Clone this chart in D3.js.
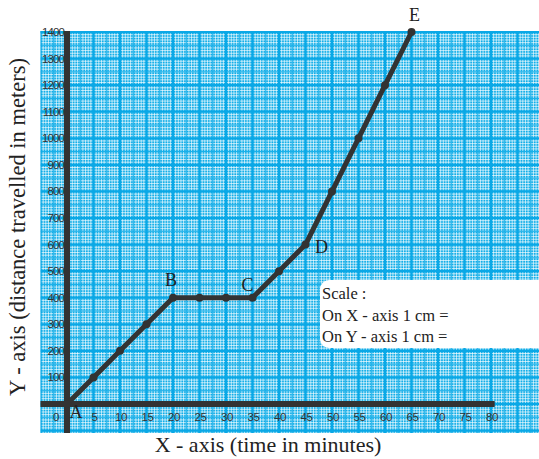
<!DOCTYPE html>
<html>
<head>
<meta charset="utf-8">
<script src="https://cdn.jsdelivr.net/npm/d3@7"></script>
<style>
  body { margin: 0; background: #fff; }
  svg { display: block; }
  .tick-lbl { font-family: "Liberation Sans", Arial, sans-serif; font-size: 11.5px; fill: #333; }
  .serif { font-family: "Liberation Serif", "Times New Roman", serif; fill: #222; }
</style>
</head>
<body>
<svg id="chart" width="539" height="459"></svg>
<script>
// data
var timeMin = [0, 5, 10, 15, 20, 25, 30, 35, 40, 45, 50, 55, 60, 65];
var distM   = [0, 100, 200, 300, 400, 400, 400, 400, 500, 600, 800, 1000, 1200, 1400];
var ptNames = ["A", "B", "C", "D", "E"];
var ptIndex = [0, 4, 7, 9, 13];
var xTickLabels = [0, 5, 10, 15, 20, 25, 30, 35, 40, 45, 50, 55, 60, 65, 70, 75, 80];
var yTickLabels = [100, 200, 300, 400, 500, 600, 700, 800, 900, 1000, 1100, 1200, 1300, 1400];
var scaleLines = ["Scale :", "On X - axis 1 cm =", "On Y - axis 1 cm ="];

var svg = d3.select("#chart");

// scales
var x = d3.scaleLinear().domain([0, 80]).range([67, 491]);
var y = d3.scaleLinear().domain([0, 1400]).range([404, 32]);

// graph paper
var gx0 = 40.5, gx1 = 539, gy0 = 31, gy1 = 433;
svg.append("clipPath").attr("id", "paper")
  .append("rect").attr("x", gx0).attr("y", gy0).attr("width", gx1 - gx0).attr("height", gy1 - gy0);

var paper = svg.append("g").attr("clip-path", "url(#paper)");
paper.append("rect")
  .attr("x", gx0).attr("y", gy0).attr("width", gx1 - gx0).attr("height", gy1 - gy0)
  .attr("fill", "#12aee8");

var minorX = d3.range(-5, 90.01, 0.5);
var minorY = d3.range(-120, 1400.01, 10);

// fine white lines
paper.selectAll(".vmin").data(minorX).enter().append("line")
  .attr("x1", d => x(d)).attr("x2", d => x(d)).attr("y1", gy0).attr("y2", gy1)
  .attr("stroke", "#fff").attr("stroke-opacity", 0.75).attr("stroke-width", 0.9);
paper.selectAll(".hmin").data(minorY).enter().append("line")
  .attr("x1", gx0).attr("x2", gx1).attr("y1", d => y(d)).attr("y2", d => y(d))
  .attr("stroke", "#fff").attr("stroke-opacity", 0.75).attr("stroke-width", 0.9);

// mid lines
paper.selectAll(".vmid").data(minorX.filter(d => Math.abs(d % 5) === 2.5)).enter().append("line")
  .attr("x1", d => x(d)).attr("x2", d => x(d)).attr("y1", gy0).attr("y2", gy1)
  .attr("stroke", "#10ade8").attr("stroke-width", 1);
paper.selectAll(".hmid").data(minorY.filter(d => Math.abs(d % 100) === 50)).enter().append("line")
  .attr("x1", gx0).attr("x2", gx1).attr("y1", d => y(d)).attr("y2", d => y(d))
  .attr("stroke", "#10ade8").attr("stroke-width", 1);

// major blue lines
paper.selectAll(".vmaj").data(minorX.filter(d => d % 5 === 0)).enter().append("line")
  .attr("x1", d => x(d)).attr("x2", d => x(d)).attr("y1", gy0).attr("y2", gy1)
  .attr("stroke", "#0aa8e6").attr("stroke-width", 2.2);
paper.selectAll(".hmaj").data(minorY.filter(d => d % 100 === 0)).enter().append("line")
  .attr("x1", gx0).attr("x2", gx1).attr("y1", d => y(d)).attr("y2", d => y(d))
  .attr("stroke", "#0aa8e6").attr("stroke-width", 2.2);
// top border
paper.append("line").attr("x1", gx0).attr("x2", gx1).attr("y1", gy0 + 1).attr("y2", gy0 + 1)
  .attr("stroke", "#0aa8e6").attr("stroke-width", 2.5);

// axes
svg.append("line")
  .attr("x1", gx0).attr("x2", x(80.7)).attr("y1", y(0)).attr("y2", y(0))
  .attr("stroke", "#333").attr("stroke-width", 6);
svg.append("line")
  .attr("x1", x(0)).attr("x2", x(0)).attr("y1", gy0).attr("y2", gy1)
  .attr("stroke", "#333").attr("stroke-width", 6);

// tick labels
svg.selectAll(".xt").data(xTickLabels).enter().append("text")
  .attr("class", "tick-lbl")
  .attr("x", d => d === 0 ? x(0) - 11 : x(d) + 1)
  .attr("y", y(0) + 17)
  .attr("text-anchor", "middle")
  .attr("letter-spacing", "-0.3")
  .text(d => d);
svg.selectAll(".yt").data(yTickLabels).enter().append("text")
  .attr("class", "tick-lbl")
  .attr("x", x(0) - 3)
  .attr("y", d => y(d) + 4)
  .attr("text-anchor", "end")
  .attr("letter-spacing", "-0.9")
  .text(d => d);

// the path
var pts = timeMin.map((t, i) => [t, distM[i]]);
svg.append("path")
  .datum(pts)
  .attr("d", d3.line().x(d => x(d[0])).y(d => y(d[1])))
  .attr("fill", "none").attr("stroke", "#333").attr("stroke-width", 5)
  .attr("stroke-linejoin", "round");
svg.selectAll(".pt").data(pts).enter().append("circle")
  .attr("cx", d => x(d[0])).attr("cy", d => y(d[1])).attr("r", 4)
  .attr("fill", "#333");

// point names
var nameOffset = { A: [9, 14], B: [-2, -12], C: [-5, -7], D: [16, 8], E: [3, -11] };
ptNames.forEach(function (n, k) {
  var p = pts[ptIndex[k]];
  svg.append("text").attr("class", "serif")
    .attr("x", x(p[0]) + nameOffset[n][0])
    .attr("y", y(p[1]) + nameOffset[n][1])
    .attr("text-anchor", "middle")
    .attr("font-size", 18)
    .text(n);
});

// scale box
svg.append("rect")
  .attr("x", 320).attr("y", 280).attr("width", 232).attr("height", 68)
  .attr("rx", 9).attr("fill", "#fff");
svg.selectAll(".sc").data(scaleLines).enter().append("text")
  .attr("class", "serif")
  .attr("x", 322)
  .attr("y", (d, i) => 299 + i * 21.5)
  .attr("font-size", 16.5)
  .text(d => d);

// axis titles
svg.append("text").attr("class", "serif")
  .attr("x", 268).attr("y", 452)
  .attr("text-anchor", "middle").attr("font-size", 22)
  .text("X - axis (time in minutes)");
svg.append("text").attr("class", "serif")
  .attr("transform", "translate(25,227) rotate(-90)")
  .attr("text-anchor", "middle").attr("font-size", 22.5)
  .text("Y - axis (distance travelled in meters)");
</script>
</body>
</html>
